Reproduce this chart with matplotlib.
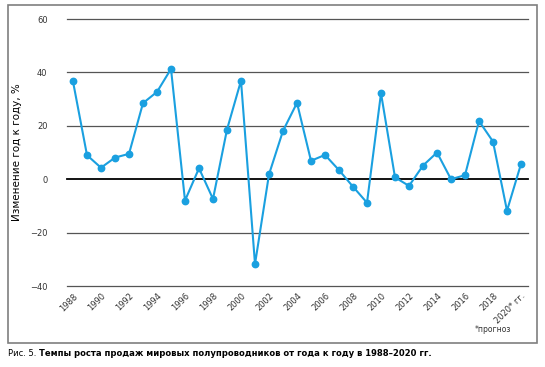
import matplotlib.pyplot as plt
from matplotlib.patches import Rectangle

# годы и рост продаж, %
years = list(range(1988, 2021))
growth = [36.6, 9.0, 4.3, 8.1, 9.5, 28.5, 32.7, 41.3, -8.0, 4.1,
          -7.4, 18.6, 36.9, -31.8, 1.8, 18.1, 28.6, 6.9, 9.1, 3.4,
          -2.8, -8.8, 32.2, 0.7, -2.5, 5.1, 10.0, 0.0, 1.5, 21.8,
          14.1, -11.8, 5.7]
tickYears = list(range(1988, 2021, 2))
tickLabels = [str(y) for y in tickYears[:-1]] + ["2020* гг."]
yTicks = [-40, -20, 0, 20, 40, 60]
yLabels = ["\u221240", "\u221220", "0", "20", "40", "60"]

fig = plt.figure(figsize=(5.45, 3.67), dpi=100)
ax = fig.add_axes([0.1229, 0.2207, 0.9688 - 0.1229, 0.9482 - 0.2207])

# рамка вокруг рисунка
fig.patches.append(Rectangle((8 / 545, 1 - 343 / 367), 529 / 545, 338 / 367,
                             transform=fig.transFigure, fill=False,
                             edgecolor="#7f7f7f", linewidth=1.2))

for v in yTicks:
    if v == 0:
        ax.axhline(v, color="black", linewidth=1.3, zorder=1, clip_on=False)
    else:
        ax.axhline(v, color="#555555", linewidth=0.9, zorder=1, clip_on=False)

ax.plot(years, growth, color="#1aa0e0", linewidth=1.5, marker="o",
        markersize=4.6, zorder=3)

ax.set_xlim(1987.57, 2020.5)
ax.set_ylim(-40, 60)
for s in ax.spines.values():
    s.set_visible(False)

ax.set_yticks(yTicks)
ax.set_yticklabels(yLabels, fontsize=6, color="#333333")
ax.tick_params(axis="y", length=0, pad=14)
ax.set_xticks(tickYears)
ax.set_xticklabels(tickLabels, fontsize=6, color="#333333", rotation=45,
                   ha="right", rotation_mode="anchor")
ax.tick_params(axis="x", length=0, pad=4)

ax.set_ylabel("Изменение год к году, %", fontsize=7.5, labelpad=6)

fig.text(475 / 545, 1 - 329 / 367, "*прогноз", fontsize=5.5,
         color="#333333", va="center")

# подпись: подбираем размер шрифта, чтобы ширина была ~422 px
capY = 1 - 354 / 367
capWidth = 422
size = 8.5
for i in range(4):
    t1 = fig.text(8 / 545, capY, "Рис. 5. ", fontsize=size,
                  fontstretch="condensed", va="center")
    fig.canvas.draw()
    bb = t1.get_window_extent()
    t2 = fig.text(bb.x1 / fig.bbox.width, capY,
                  "Темпы роста продаж мировых полупроводников от года к году в 1988–2020 гг.",
                  fontsize=size, fontstretch="condensed", fontweight="bold",
                  va="center")
    fig.canvas.draw()
    w = t2.get_window_extent().x1 - 8
    if abs(w - capWidth) < 2:
        break
    t1.remove()
    t2.remove()
    size = size * capWidth / w

fig.savefig("out.png", dpi=100)
